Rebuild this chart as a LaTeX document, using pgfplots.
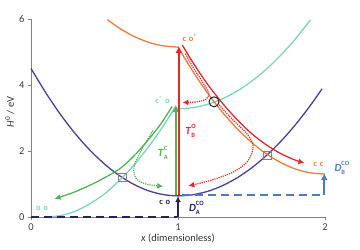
\documentclass[border=0pt]{standalone}
\usepackage{fontspec}
\setmainfont{Carlito}
\usepackage{pgfplots}
\pgfplotsset{compat=1.18}
\usetikzlibrary{arrows.meta}
\definecolor{cpurple}{RGB}{78,62,152}
\definecolor{cteal}{RGB}{125,212,190}
\definecolor{cgreen}{RGB}{80,180,80}
\definecolor{corange}{RGB}{234,125,60}
\definecolor{cred}{RGB}{230,40,45}
\definecolor{cnavy}{RGB}{35,35,95}
\definecolor{cblue}{RGB}{75,125,195}
\definecolor{caxis}{RGB}{130,130,130}
\newcommand{\subsup}[3]{\textit{#1}\rlap{\raisebox{-3pt}{\fontsize{6.5}{7}\selectfont #2}}\raisebox{6pt}{\fontsize{6.5}{7}\selectfont #3}}
\begin{document}
\begin{tikzpicture}[x=1bp,y=1bp]
\path[use as bounding box] (-31,-33) rectangle (329,217);
\begin{axis}[
  at={(0,0)}, anchor=origin,
  scale only axis, width=294bp, height=198bp,
  xmin=0, xmax=2, ymin=0, ymax=6,
  clip=false,
  axis x line*=bottom, axis y line*=left,
  axis line style={caxis, line width=0.8bp, -},
  xtick={0,1,2}, ytick={0,2,4,6},
  tick align=outside, major tick length=3bp,
  tick style={caxis, line width=0.6bp},
  /pgf/number format/assume math mode=true,
  ticklabel style={font=\fontsize{10.5}{12}\selectfont, text=black!75},
  xlabel={\textit{x} (dimensionless)},
  ylabel={\textit{H}\textsuperscript{0} / eV},
  label style={font=\fontsize{10.5}{12}\selectfont, text=black!80},
  xlabel style={at={(axis description cs:0.5,-0.108)}, anchor=center},
  ylabel style={at={(axis description cs:-0.072,0.53)}, anchor=center},
]
% purple
\addplot[cpurple, line width=1.3bp, smooth] coordinates {
(0,4.50)(0.1,3.77)(0.2,3.11)(0.3,2.53)(0.4,2.03)(0.5,1.605)(0.6,1.258)(0.7,0.987)(0.8,0.794)(0.9,0.679)(1.0,0.64)
(1.1,0.674)(1.2,0.775)(1.3,0.944)(1.4,1.181)(1.5,1.485)(1.6,1.857)(1.7,2.296)(1.8,2.803)(1.9,3.378)(1.98,3.886)};
% teal left and right
\addplot[cteal, line width=1.3bp, smooth] coordinates {
(0.1,0)(0.2,0.043)(0.3,0.172)(0.4,0.40)(0.5,0.70)(0.6,1.10)(0.7,1.57)(0.8,2.13)(0.9,2.76)(0.98,3.32)};
\addplot[cteal, line width=1.3bp, smooth] coordinates {
(0.98,3.30)(1.0,3.28)(1.1,3.313)(1.2,3.413)(1.3,3.579)(1.4,3.811)(1.5,4.11)(1.6,4.475)(1.7,4.907)(1.8,5.405)(1.9,5.969)};
% orange
\addplot[corange, line width=1.3bp, smooth] coordinates {
(0.52,5.98)(0.6,5.726)(0.7,5.474)(0.8,5.294)(0.9,5.186)(1.0,5.15)};
\addplot[corange, line width=1.3bp, smooth] coordinates {
(1.0,5.15)(1.1,4.419)(1.2,3.764)(1.3,3.187)(1.4,2.686)(1.5,2.263)(1.6,1.916)(1.7,1.647)(1.8,1.454)(1.9,1.339)(2.0,1.30)};
% green curved arrow
\addplot[cgreen, line width=1.3bp, smooth, {Latex[length=6bp,width=6bp]}-] coordinates {
(0.16,0.55)(0.25,0.68)(0.33,0.82)(0.45,1.07)(0.6,1.45)(0.7,1.85)(0.79,2.3)(0.88,2.8)(0.96,3.35)};
% green dotted arrow
\addplot[cgreen, line width=1.2bp, densely dotted, smooth, -{Latex[length=6bp,width=6bp]}] coordinates {
(0.83,2.62)(0.78,2.25)(0.73,1.85)(0.70,1.5)(0.71,1.2)(0.76,1.03)(0.83,0.96)(0.9,0.93)};
% red diagonal arrow
\addplot[cred, line width=1.3bp, smooth, -{Latex[length=6bp,width=6bp]}] coordinates {
(1.03,5.21)(1.1,4.69)(1.2,4.03)(1.3,3.46)(1.4,2.96)(1.5,2.53)(1.6,2.19)(1.7,1.92)(1.8,1.72)(1.86,1.645)};
% red dotted upper
\addplot[cred, line width=1.2bp, densely dotted, smooth, -{Latex[length=6bp,width=6bp]}] coordinates {
(1.05,4.95)(1.1,4.55)(1.15,4.21)(1.19,3.92)(1.21,3.72)(1.19,3.57)(1.13,3.49)(1.03,3.47)};
% red dotted lower
\addplot[cred, line width=1.2bp, densely dotted, smooth, -{Latex[length=6bp,width=6bp]}] coordinates {
(1.28,3.40)(1.35,3.05)(1.42,2.74)(1.48,2.46)(1.51,2.2)(1.50,1.9)(1.46,1.62)(1.37,1.35)(1.23,1.12)(1.07,0.94)};
% vertical arrows
\addplot[cgreen, line width=1.7bp, -{Latex[length=7bp,width=7bp]}] coordinates {(0.985,0.66)(0.985,3.40)};
\addplot[cred, line width=1.9bp, -{Latex[length=7bp,width=7bp]}] coordinates {(1.006,0.66)(1.006,5.18)};
% dashed lines
\addplot[cnavy, line width=2bp, dash pattern=on 8bp off 5bp] coordinates {(0,0)(0.99,0)};
\addplot[cblue, line width=1.9bp, dash pattern=on 8bp off 5bp] coordinates {(1.03,0.66)(1.985,0.66)};
\addplot[cnavy, line width=1.7bp, -{Latex[length=6bp,width=6bp]}] coordinates {(1.0,0)(1.0,0.63)};
\addplot[cblue, line width=1.9bp, -{Latex[length=7bp,width=7bp]}] coordinates {(1.995,0.66)(1.995,1.33)};
% markers
\addplot[only marks, mark=square, mark size=4bp, mark options={draw=caxis, line width=0.8bp}] coordinates {(0.62,1.20)(1.61,1.88)};
\addplot[only marks, mark=o, mark size=5bp, mark options={draw=black!85, line width=1bp}] coordinates {(1.245,3.49)};
% labels
\node[text=corange, font=\fontsize{8.5}{9}\selectfont\bfseries] at (axis cs:1.08,5.43) {c\,\,o\textsuperscript{*}};
\node[text=cteal, font=\fontsize{8.5}{9}\selectfont\bfseries] at (axis cs:0.895,3.55) {c\textsuperscript{*}\,\,o};
\node[text=cteal, font=\fontsize{8.5}{9}\selectfont\bfseries] at (axis cs:0.075,0.25) {o\,\,o};
\node[text=cnavy, font=\fontsize{8.5}{9}\selectfont\bfseries] at (axis cs:0.91,0.44) {c\,\,o};
\node[text=corange, font=\fontsize{8.5}{9}\selectfont\bfseries] at (axis cs:1.955,1.58) {c\,\,c};
\node[text=cred, font=\fontsize{11}{12}\selectfont\bfseries] at (axis cs:1.085,2.6) {\subsup{T}{B}{O}};
\node[text=cgreen, font=\fontsize{11}{12}\selectfont\bfseries] at (axis cs:0.895,1.94) {\subsup{T}{A}{C}};
\node[text=cnavy, font=\fontsize{11}{12}\selectfont\bfseries] at (axis cs:1.125,0.27) {\subsup{D}{A}{CO}};
\node[text=cblue, font=\fontsize{11}{12}\selectfont\bfseries] at (axis cs:2.115,1.50) {\subsup{D}{B}{CO}};
\end{axis}
\end{tikzpicture}
\end{document}
